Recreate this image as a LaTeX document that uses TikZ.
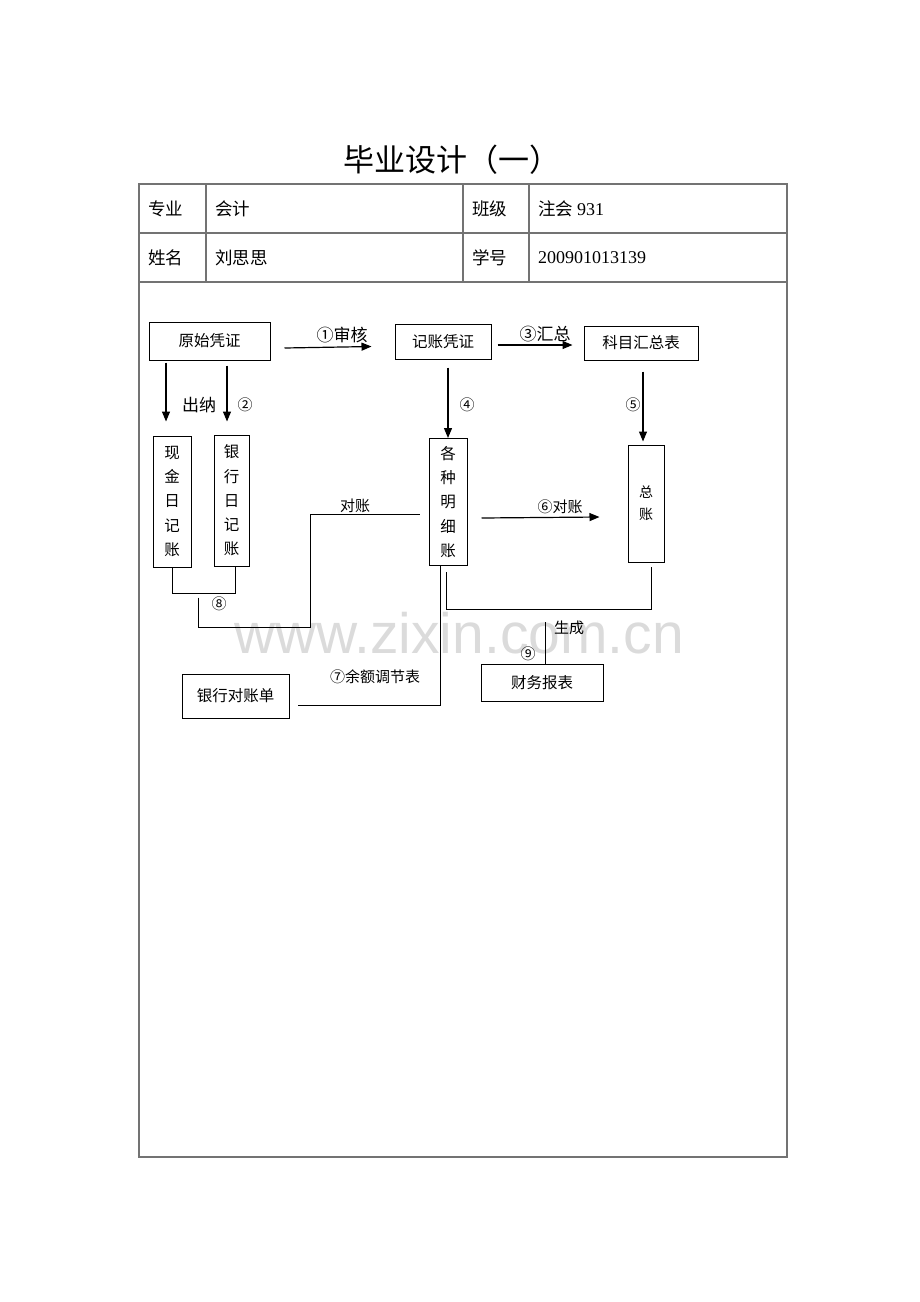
\documentclass[tikz,border=0pt]{standalone}
\usepackage{fontspec}
\setmainfont{Noto Sans CJK SC}
\newfontfamily\numfont{Liberation Serif}
\newfontfamily\wmfont{Liberation Sans}
\usetikzlibrary{arrows.meta}

\tikzset{
  box/.style={draw,line width=1pt,inner sep=0pt,font=\fontsize{15.5}{18}\selectfont},
  vbox/.style={box,align=center,font=\fontsize{15.5}{24.3}\selectfont},
  lbl/.style={inner sep=0pt,font=\fontsize{15}{18}\selectfont},
  biglbl/.style={inner sep=0pt,font=\fontsize{17}{20}\selectfont},
  arr/.style={line width=1.2pt,-{Triangle[length=10pt,width=8pt]}},
  ln/.style={line width=1pt},
  tab/.style={draw=black!55,line width=1.5pt},
  cell/.style={inner sep=0pt,anchor=west,font=\fontsize{17.5}{20}\selectfont},
}

\begin{document}
\begin{tikzpicture}[x=1pt,y=-1pt]
   \useasboundingbox (0,0) rectangle (920,1302);
   % watermark
   \node[text=black!14,font=\wmfont\fontsize{57}{60}\selectfont] (wm) at (459,633) {www.zixin.com.cn};
   % title and form
   \node[font=\fontsize{31}{34}\selectfont] (title) at (452,160) {毕业设计（一）};
   \draw[tab] (139,184) rectangle (787,1157);
   \draw[tab] (139,233) -- (787,233);
   \draw[tab] (139,282) -- (787,282);
   \draw[tab] (206,184) -- (206,282);
   \draw[tab] (463,184) -- (463,282);
   \draw[tab] (529,184) -- (529,282);
   \node[cell] (zy) at (148,209) {专业};
   \node[cell] (zyv) at (215,209) {会计};
   \node[cell] (bj) at (472,209) {班级};
   \node[cell] (bjv) at (538,209) {注会 {\numfont\fontsize{18}{20}\selectfont 931}};
   \node[cell] (xm) at (148,258) {姓名};
   \node[cell] (xmv) at (215,258) {刘思思};
   \node[cell] (xh) at (472,258) {学号};
   \node[cell,font=\numfont\fontsize{18}{20}\selectfont] (xhv) at (538,258) {200901013139};

   % boxes
   \node[box,minimum width=121,minimum height=38] (yszp) at (209.5,341) {原始凭证};
   \node[box,minimum width=96,minimum height=35] (jzpz) at (443,341.5) {记账凭证};
   \node[box,minimum width=114,minimum height=34] (kmhz) at (641,343) {科目汇总表};
   \node[vbox,minimum width=38,minimum height=131] (xjrj) at (172,501.5) {现\\金\\日\\记\\账};
   \node[vbox,minimum width=35,minimum height=131] (yhrj) at (231.5,500.5) {银\\行\\日\\记\\账};
   \node[vbox,minimum width=38,minimum height=127] (mxz) at (448,502) {各\\种\\明\\细\\账};
   \node[vbox,minimum width=36,minimum height=117,font=\fontsize{14}{22}\selectfont] (zz) at (646,503.5) {总\\账};
   \node[box,minimum width=122,minimum height=37] (cwbb) at (542,682.5) {财务报表};
   \node[box,minimum width=107,minimum height=44] (yhdz) at (235.5,696) {银行对账单};

   % arrows
   \draw[arr] ([shift={(14,7)}]yszp.east) -- ([shift={(-23,5)}]jzpz.west);
   \node[biglbl] (l1) at (342,335) {①审核};
   \draw[arr] ([shift={(6,3.5)}]jzpz.east) -- ([shift={(-11,2)}]kmhz.west);
   \node[biglbl] (l3) at (545,334) {③汇总};
   \draw[arr] ([shift={(-43.5,2)}]yszp.south) -- ([shift={(-6,-14)}]xjrj.north);
   \draw[arr] ([shift={(17.5,5)}]yszp.south) -- ([shift={(-4.5,-13)}]yhrj.north);
   \node[biglbl] (cn) at (199,405) {出纳};
   \node[lbl] (l2) at (245,405) {②};
   \draw[arr] ([shift={(5,8)}]jzpz.south) -- (mxz.north);
   \node[lbl] (l4) at (467,405) {④};
   \draw[arr] ([shift={(2,11)}]kmhz.south) -- ([shift={(-3,-3)}]zz.north);
   \node[lbl] (l5) at (633,405) {⑤};
   \draw[arr] ([shift={(14,16)}]mxz.east) -- ([shift={(-28,13.5)}]zz.west);
   \node[lbl] (l6) at (560,507) {⑥对账};

   % lines
   \draw[ln] (xjrj.south) |- ([shift={(4,27)}]yhrj.south) -- ([xshift=4]yhrj.south);
   \draw[ln] ([shift={(26,30)}]xjrj.south) -- ++(0,30) -- ++(112,0)
      |- ([shift={(-9,12)}]mxz.west);
   \node[lbl] (dz) at (355,506) {对账};
   \node[lbl] (l8) at (219,604) {⑧};
   \draw[ln] ([xshift=-8]mxz.south) |- ([shift={(8,9)}]yhdz.east);
   \node[lbl] (l7) at (375,677) {⑦余额调节表};
   \draw[ln] ([shift={(-2,6)}]mxz.south) |- ([shift={(5,47)}]zz.south)
      -- ([shift={(5,4)}]zz.south);
   \draw[ln] ([xshift=3]cwbb.north) -- ++(0,-42);
   \node[lbl] (sc) at (569,628) {生成};
   \node[lbl] (l9) at (528,654) {⑨};
\end{tikzpicture}
\end{document}
